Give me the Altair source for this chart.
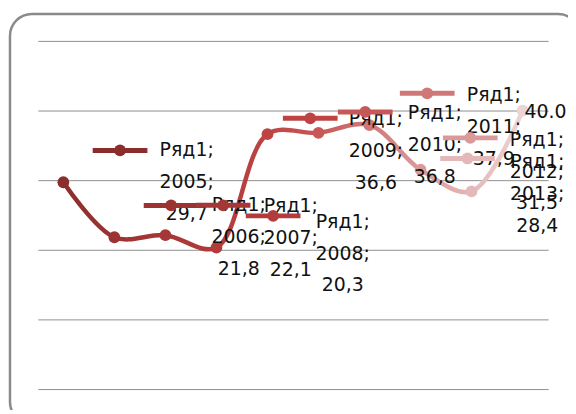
import altair as alt
import pandas as pd

# ---- data ----
series_name = "Ряд1"
years = ["2005", "2006", "2007", "2008", "2009", "2010", "2011", "2012", "2013", "2014"]
values = [29.7, 21.8, 22.1, 20.3, 36.6, 36.8, 37.9, 31.5, 28.4, 40.0]
value_text = ["29,7", "21,8", "22,1", "20,3", "36,6", "36,8", "37,9", "31,5", "28,4", "40.0"]
grid_values = [0, 10, 20, 30, 40, 50]

# ---- styles ----
point_colors = ["#8C2D2D", "#9C3333", "#A63737", "#B23B3B", "#BE4444",
                "#C85858", "#D07878", "#DA9A9A", "#E4B8B8", "#EED4D4"]

# label layout: pixel offsets relative to each data point
show_key = [True] * 9 + [False]
show_full = [True] * 9 + [False]
key_dx = [57, 57, 58, 57, 43, 47, 58, 50, -4, 0]
key_dy = [-32, -32, -30, -32, -16, -21, -32, -32, -33, 0]
text_dx = [124, 125, 126, 127, 109, 117, 125, 117, 66, 23]
text_dy = [-32, -32, -29, -26, -15, -20, -30, -30, -29, 2]

labels = [
    f"{series_name};\n{y};\n{v}" if full else v
    for y, v, full in zip(years, value_text, show_full)
]

df = pd.DataFrame({"year": years, "value": values, "label": labels, "color": point_colors})

base = alt.Chart(df).encode(
    x=alt.X("year:O", axis=None, sort=years, scale=alt.Scale(type="point", padding=0.5)),
    y=alt.Y(
        "value:Q",
        scale=alt.Scale(domain=[0, 50], nice=False),
        axis=alt.Axis(values=grid_values, grid=True, labels=False, ticks=False,
                      domain=False, title=None, gridColor="#8f8f8f", gridWidth=1),
    ),
)

gradient = alt.Gradient(
    gradient="linear",
    stops=[alt.GradientStop(offset=i / (len(point_colors) - 1), color=c)
           for i, c in enumerate(point_colors)],
    x1=0, x2=1, y1=0, y2=0,
)

border = alt.Chart(alt.Data(values=[{"b": 1}])).mark_rect(
    cornerRadius=22, fillOpacity=0, stroke="#8a8a8a", strokeWidth=2.5
).encode(x=alt.value(-28), x2=alt.value(545), y=alt.value(-27), y2=alt.value(385))

line = base.mark_line(interpolate="catmull-rom", strokeWidth=4.5, stroke=gradient)
points = base.mark_circle(size=140, opacity=1).encode(color=alt.Color("color:N", scale=None))

label_layers = []
for i, yr in enumerate(years):
    sel = base.transform_filter(alt.datum.year == yr)
    if show_key[i]:
        label_layers.append(sel.mark_tick(
            orient="horizontal", size=55, thickness=5, color=point_colors[i], opacity=1,
            xOffset=key_dx[i], yOffset=key_dy[i]))
        label_layers.append(sel.mark_circle(
            size=140, opacity=1, color=point_colors[i],
            xOffset=key_dx[i], yOffset=key_dy[i]))
    label_layers.append(sel.mark_text(
        font="DejaVu Sans", fontSize=19, lineBreak="\n", lineHeight=32,
        align="center", baseline="middle", color="#111111",
        dx=text_dx[i], dy=text_dy[i]).encode(text="label:N"))

chart = alt.layer(border, line, points, *label_layers).properties(
    width=513, height=350,
    padding={"left": 30, "top": 32, "right": 20, "bottom": 20},
    autosize="none",
).configure_view(stroke=None)

chart.save("out.html", embed_options={"renderer": "svg", "actions": False})
